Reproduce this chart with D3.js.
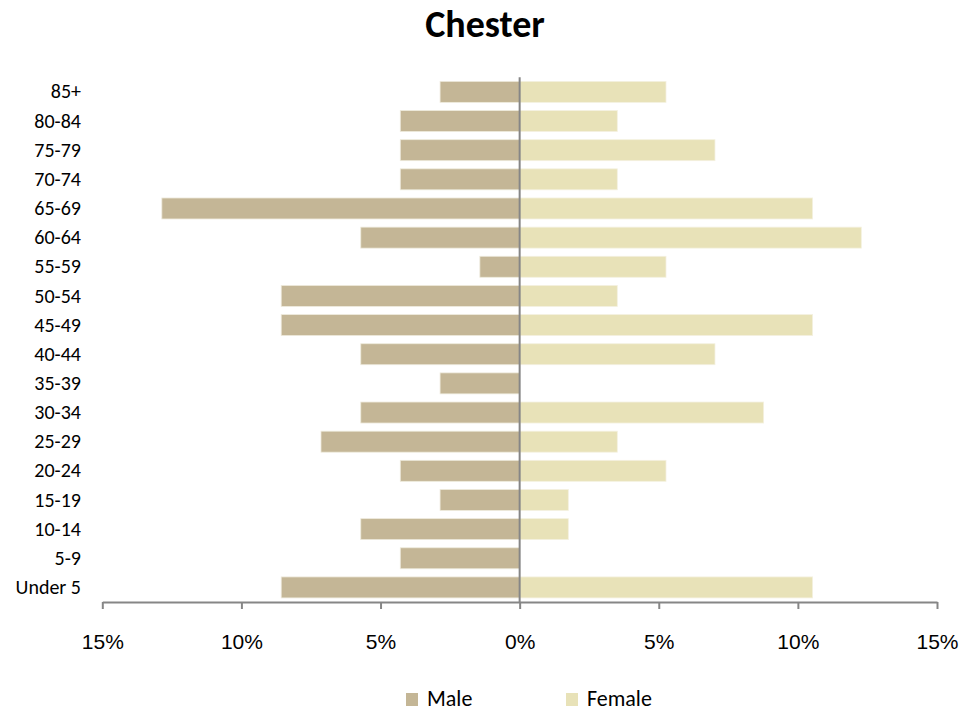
<!DOCTYPE html>
<html>
<head>
<meta charset="utf-8">
<script src="https://cdn.jsdelivr.net/npm/d3@7"></script>
<style>
  body { margin:0; background:#fff; }
  svg { font-family: Carlito, Calibri, Lato, sans-serif; }
  .axis path, .axis line { stroke:#868686; stroke-width:2px; }
  .axis text { font-size:21px; fill:#000; }
  .age { font-size:20px; fill:#000; }
</style>
</head>
<body>
<div id="chart"></div>
<script>
// age groups, bottom to top as in the sheet
var ageGroups = ['Under 5','5-9','10-14','15-19','20-24','25-29','30-34','35-39','40-44',
  '45-49','50-54','55-59','60-64','65-69','70-74','75-79','80-84','85+'];
// percent of each sex
var malePct = [8.57,4.29,5.71,2.86,4.29,7.14,5.71,2.86,5.71,8.57,8.57,1.43,5.71,12.86,4.29,4.29,4.29,2.86];
var femalePct = [10.53,0,1.75,1.75,5.26,3.51,8.77,0,7.02,10.53,3.51,5.26,12.28,10.53,3.51,7.02,3.51,5.26];
var tickValues = [-15,-10,-5,0,5,10,15];
var seriesNames = ['Male','Female'];
var seriesColors = ['#C4B696','#E8E2B8'];

var width = 979, height = 713;
var plot = {left:102.3, right:937, top:77.3, bottom:602};

var svg = d3.select('#chart').append('svg')
  .attr('width', width)
  .attr('height', height);

var x = d3.scaleLinear().domain([-15,15]).range([plot.left, plot.right]);
//85+ at top
var y = d3.scaleBand().domain(ageGroups.slice().reverse())
  .range([plot.top, plot.bottom])
  .paddingInner(0.28).paddingOuter(0.14);

//title
svg.append('text')
  .attr('x', 485)
  .attr('y', 37)
  .attr('text-anchor','middle')
  .style('font-size','38px')
  .style('font-weight','bold')
  .text('Chester');

var rows = ageGroups.map(function (d,i) {
  return {age:d, male:malePct[i], female:femalePct[i]};
});

//male bars go left of zero
svg.append('g').selectAll('rect')
  .data(rows).enter().append('rect')
  .attr('x', function (d) { return x(-d.male); })
  .attr('y', function (d) { return y(d.age); })
  .attr('width', function (d) { return x(0) - x(-d.male); })
  .attr('height', y.bandwidth())
  .attr('fill', seriesColors[0])
  .attr('stroke', '#EEEADC')
  .attr('stroke-width', 0.8);

svg.append('g').selectAll('rect')
  .data(rows.filter(function (d) { return d.female > 0; })).enter().append('rect')
  .attr('x', x(0))
  .attr('y', function (d) { return y(d.age); })
  .attr('width', function (d) { return x(d.female) - x(0); })
  .attr('height', y.bandwidth())
  .attr('fill', seriesColors[1])
  .attr('stroke', '#F4F1E0')
  .attr('stroke-width', 0.8);

//x axis, labels are absolute percents
var xAxis = d3.axisBottom(x)
  .tickValues(tickValues)
  .tickFormat(function (d) { return Math.abs(d) + '%'; })
  .tickSize(7)
  .tickSizeOuter(0)
  .tickPadding(25);

svg.append('g')
  .classed('axis', true)
  .attr('transform', 'translate(0,' + plot.bottom + ')')
  .call(xAxis);

//vertical line at zero
svg.append('line')
  .attr('x1', x(0)).attr('x2', x(0))
  .attr('y1', plot.top).attr('y2', plot.bottom)
  .attr('stroke', '#868686')
  .attr('stroke-width', 2);

//age labels
svg.append('g').selectAll('text')
  .data(ageGroups).enter().append('text')
  .classed('age', true)
  .attr('x', 81)
  .attr('y', function (d) { return y(d) + y.bandwidth()/2; })
  .attr('dy', '0.33em')
  .attr('text-anchor', 'end')
  .text(function (d) { return d; });

//legend
var legendX = [406, 566];
var legend = svg.append('g').selectAll('g')
  .data(seriesNames).enter().append('g')
  .attr('transform', function (d,i) { return 'translate(' + legendX[i] + ',693)'; });
legend.append('rect')
  .attr('width', 12).attr('height', 13)
  .attr('fill', function (d,i) { return seriesColors[i]; });
legend.append('text')
  .attr('x', 21)
  .attr('y', 13)
  .style('font-size','22px')
  .text(function (d) { return d; });
</script>
</body>
</html>
